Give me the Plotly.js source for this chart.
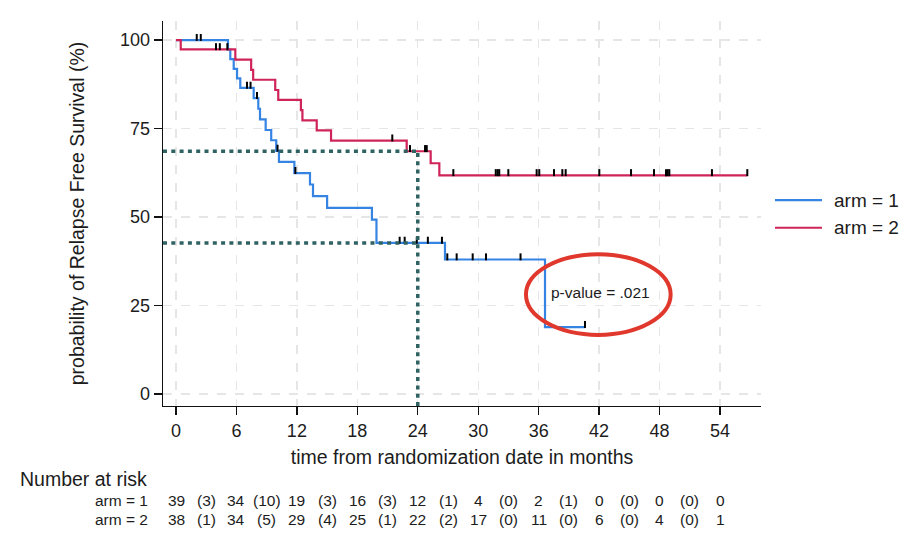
<!DOCTYPE html>
<html>
<head>
<meta charset="utf-8">
<script src="https://cdn.plot.ly/plotly-3.0.1.min.js"></script>
<style>
  html, body { margin: 0; padding: 0; background: #ffffff; }
  #chart { width: 924px; height: 548px; }
</style>
</head>
<body>
<div id="chart"></div>
<script>
// Kaplan–Meier relapse-free survival (%) by treatment arm, time in months
const arm1Times = [0, 5.16, 5.39, 5.73, 6.06, 6.38, 7.71, 8.17, 8.34, 8.9, 9.45, 9.95, 10.22, 11.75, 13.3, 13.6, 15.0, 19.45, 19.9, 26.7, 36.63];
const arm1Surv  = [100, 97.3, 94.6, 91.9, 89.2, 86.5, 83.6, 80.6, 77.6, 74.6, 71.7, 68.7, 65.6, 62.4, 59.2, 55.9, 52.6, 49.3, 42.7, 38.0, 18.9];
const arm1Censored = [2.06, 2.46, 7.05, 7.4, 8.04, 10.08, 11.85, 22.2, 22.7, 23.9, 25.0, 26.4, 26.93, 27.86, 29.45, 30.77, 34.2, 40.6];
const arm1LastFollowUp = 40.6;

const arm2Times = [0, 0.47, 5.89, 7.46, 7.66, 9.85, 10.15, 12.4, 12.55, 13.97, 15.39, 22.9, 25.28, 26.14];
const arm2Surv  = [100, 97.4, 94.5, 91.6, 88.8, 85.9, 83.1, 80.2, 77.3, 74.5, 71.6, 68.6, 65.2, 61.8];
const arm2Censored = [3.97, 4.35, 5.1, 21.47, 23.23, 24.72, 24.89, 27.53, 31.74, 31.93, 32.09, 32.99, 35.8, 36.06, 37.52, 38.35, 38.68, 42.02, 45.17, 47.45, 48.64, 48.81, 48.97, 53.2, 56.71];
const arm2LastFollowUp = 56.71;

// Number-at-risk table (events in each interval shown in parentheses)
const riskTimes   = [0, 6, 12, 18, 24, 30, 36, 42, 48, 54];
const arm1AtRisk  = [39, 34, 19, 16, 12, 4, 2, 0, 0, 0];
const arm1Events  = [3, 10, 3, 3, 1, 0, 1, 0, 0];
const arm2AtRisk  = [38, 34, 29, 25, 22, 17, 11, 6, 4, 1];
const arm2Events  = [1, 5, 4, 1, 2, 0, 0, 0, 0];

const armNames = ['arm = 1', 'arm = 2'];
const landmarkMonth = 24;
const pValueText = 'p-value = .021';
const xTicks = [0, 6, 12, 18, 24, 30, 36, 42, 48, 54];
const yTicks = [0, 25, 50, 75, 100];

// ---- styling ----
const FONT = 'Arial, "Liberation Sans", Helvetica, sans-serif';
const INK = '#1c1c1c';
const BLUE = '#3584e4';
const RED = '#cf2459';
const REF = '#2f6262';
const RING = '#e0382c';
const xRange = [-1.29, 58.07];
const yRange = [-3.39, 105.4];
const tickRise = 0.75;   // censor ticks sit just above the curve

function survivalAt(times, surv, t) {
  let s = surv[0];
  for (let i = 0; i < times.length; i++) { if (times[i] <= t) s = surv[i]; }
  return s;
}

function curve(times, surv, lastT, name, color) {
  return {
    type: 'scatter', mode: 'lines', name: name, showlegend: false,
    x: times.concat([lastT]), y: surv.concat([surv[surv.length - 1]]),
    line: { color: color, width: 2.2, shape: 'hv' }, hoverinfo: 'skip'
  };
}

function censorMarks(times, surv, cens) {
  return {
    type: 'scatter', mode: 'markers', showlegend: false, hoverinfo: 'skip',
    x: cens, y: cens.map(t => survivalAt(times, surv, t) + tickRise),
    marker: { symbol: 'line-ns', size: 5, line: { color: '#000000', width: 2 } }
  };
}

const traces = [
  curve(arm1Times, arm1Surv, arm1LastFollowUp, armNames[0], BLUE),
  curve(arm2Times, arm2Surv, arm2LastFollowUp, armNames[1], RED),
  censorMarks(arm1Times, arm1Surv, arm1Censored),
  censorMarks(arm2Times, arm2Surv, arm2Censored)
];

const s1 = survivalAt(arm1Times, arm1Surv, landmarkMonth);
const s2 = survivalAt(arm2Times, arm2Surv, landmarkMonth);
const refLine = { color: REF, width: 3.5, dash: '4px,4.3px' };

const shapes = [
  { type: 'line', xref: 'x', yref: 'y', x0: xRange[0], x1: landmarkMonth, y0: s2, y1: s2, line: refLine },
  { type: 'line', xref: 'x', yref: 'y', x0: xRange[0], x1: landmarkMonth, y0: s1, y1: s1, line: refLine },
  { type: 'line', xref: 'x', yref: 'y', x0: landmarkMonth, x1: landmarkMonth, y0: yRange[0], y1: s2, line: refLine },
  { type: 'circle', xref: 'x', yref: 'y', x0: 34.74, x1: 49.1, y0: 16.7, y1: 39.5, line: { color: RING, width: 4 } }
];

// legend drawn beside the plot
const legendColors = [BLUE, RED];
const legendY = [0.535, 0.463];
legendY.forEach((y, i) => {
  shapes.push({ type: 'line', xref: 'paper', yref: 'paper', x0: 1.0234, x1: 1.102, y0: y, y1: y,
                line: { color: legendColors[i], width: 2.2 } });
});

const annotations = [];
legendY.forEach((y, i) => {
  annotations.push({ xref: 'paper', yref: 'paper', x: 1.119, y: y, xanchor: 'left', yanchor: 'middle',
                     text: armNames[i], showarrow: false, font: { family: FONT, size: 19, color: INK } });
});

annotations.push({ xref: 'x', yref: 'y', x: 37.0, y: 28.6, xanchor: 'left', yanchor: 'middle',
                   text: pValueText, showarrow: false, font: { family: FONT, size: 15.5, color: INK } });

// number-at-risk table under the axis
annotations.push({ xref: 'paper', yref: 'paper', x: -0.2425, y: -0.19, xanchor: 'left', yanchor: 'middle',
                   text: 'Number at risk', showarrow: false, font: { family: FONT, size: 19.5, color: INK } });

function riskRow(label, atRisk, events, y) {
  annotations.push({ xref: 'paper', yref: 'paper', x: -0.117, y: y, xanchor: 'left', yanchor: 'middle',
                     text: label, showarrow: false, font: { family: FONT, size: 15.5, color: INK } });
  atRisk.forEach((n, i) => {
    annotations.push({ xref: 'x', yref: 'paper', x: riskTimes[i], y: y, xanchor: 'center', yanchor: 'middle',
                       text: String(n), showarrow: false, font: { family: FONT, size: 15.5, color: INK } });
  });
  events.forEach((n, i) => {
    annotations.push({ xref: 'x', yref: 'paper', x: (riskTimes[i] + riskTimes[i + 1]) / 2, y: y,
                       xanchor: 'center', yanchor: 'middle',
                       text: '(' + n + ')', showarrow: false, font: { family: FONT, size: 15.5, color: INK } });
  });
}
riskRow(armNames[0], arm1AtRisk, arm1Events, -0.246);
riskRow(armNames[1], arm2AtRisk, arm2Events, -0.294);

const axisCommon = {
  showline: true, linecolor: '#111111', linewidth: 1.3,
  ticks: 'outside', ticklen: 8, tickwidth: 1.3, tickcolor: '#111111',
  showgrid: true, gridcolor: '#e6e6e6', gridwidth: 1.3, griddash: 'dash',
  zeroline: false, tickfont: { family: FONT, size: 18, color: INK }, fixedrange: true
};

const layout = {
  width: 924, height: 548,
  margin: { l: 163, r: 163, t: 21, b: 142, pad: 0 },
  paper_bgcolor: '#ffffff', plot_bgcolor: '#ffffff',
  showlegend: false,
  xaxis: Object.assign({}, axisCommon, {
    range: xRange, tickmode: 'array', tickvals: xTicks, ticktext: xTicks.map(String),
    title: { text: 'time from randomization date in months', font: { family: FONT, size: 19.5, color: INK }, standoff: 10 }
  }),
  yaxis: Object.assign({}, axisCommon, {
    range: yRange, tickmode: 'array', tickvals: yTicks, ticktext: yTicks.map(String),
    title: { text: 'probability of Relapse Free Survival (%)', font: { family: FONT, size: 19.5, color: INK }, standoff: 30 }
  }),
  shapes: shapes,
  annotations: annotations
};

Plotly.newPlot('chart', traces, layout, { displayModeBar: false, staticPlot: true });
</script>
</body>
</html>
